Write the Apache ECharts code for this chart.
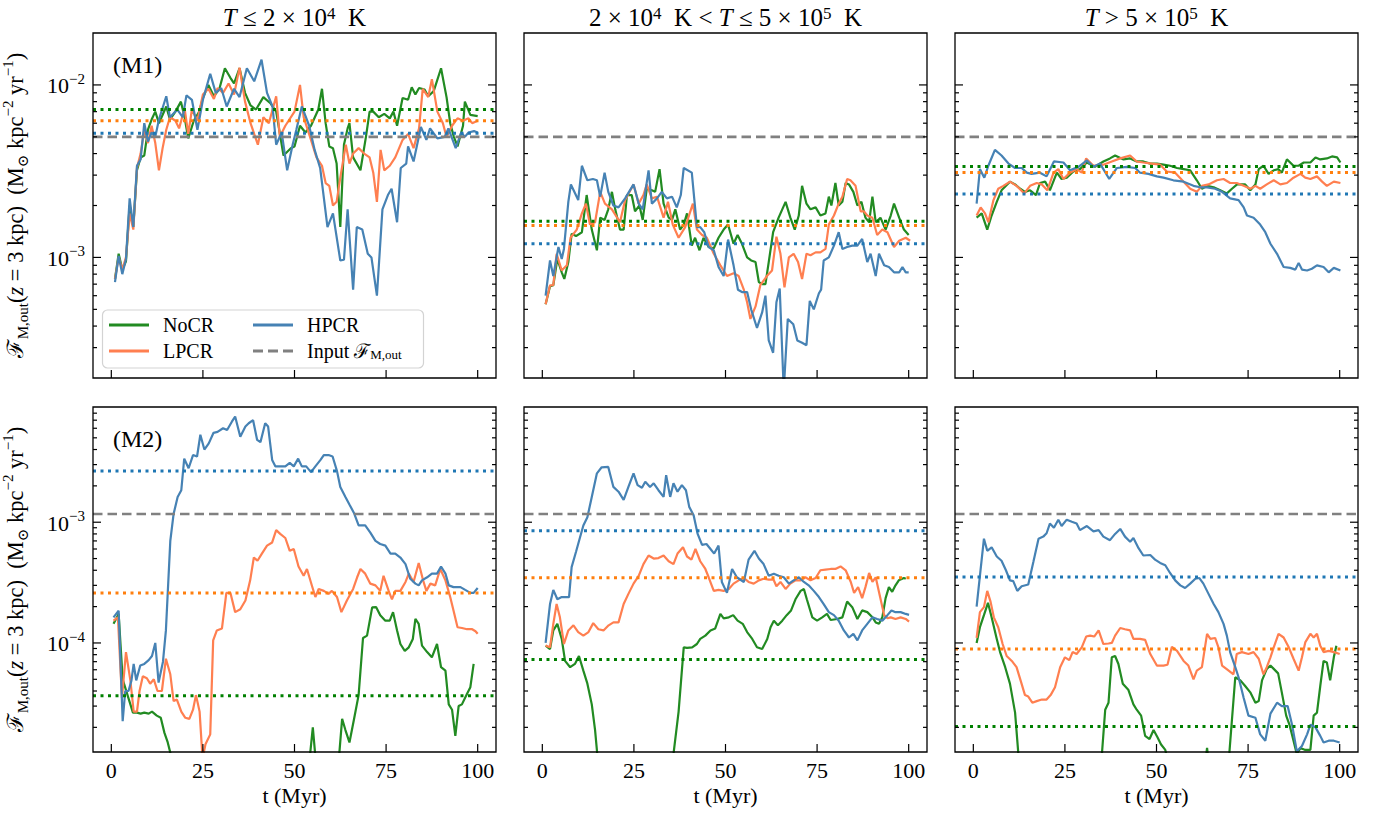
<!DOCTYPE html>
<html>
<head>
<meta charset="utf-8">
<title>Mass outflow flux at z = 3 kpc</title>
<script src="https://cdn.jsdelivr.net/npm/echarts@6/dist/echarts.min.js"></script>
<style>
html, body { margin: 0; padding: 0; background: #ffffff; }
#chart { width: 1392px; height: 818px; }
</style>
</head>
<body>
<div id="chart"></div>
<script>
// ================= DATA =================
const tLimits = [-5, 105];
const tTickValues = [0, 25, 50, 75, 100];
const fluxLimitsM1 = [2e-4, 2e-2];
const fluxLimitsM2 = [1.25e-5, 9e-3];
const columnTitles = [
  '{i|T} ≤ 2 × 10{p|4}  K',
  '2 × 10{p|4}  K < {i|T} ≤ 5 × 10{p|5}  K',
  '{i|T} > 5 × 10{p|5}  K'
];
const modelLabels = ['(M1)', '(M2)'];
const runNames = ['NoCR', 'LPCR', 'HPCR'];
const inputName = 'Input';
const xAxisTitle = 't (Myr)';
const yAxisTitle = 'ℱ{s|M,out}({i|z} = 3 kpc)  (M{s|⊙} kpc{p|−2} yr{p|−1})';

// ---- M1, T <= 2e4 K : [t (Myr), flux] ----
const m1ColdNoCR = [[1,0.75e-3],[2,1.05e-3],[3,0.85e-3],[4,0.95e-3],[5,2.0e-3],[6,1.5e-3],[7,3.2e-3],[8,3.8e-3],[9,3.9e-3],[10,5.5e-3],[11,6.3e-3],[12,7.0e-3],[13,6.0e-3],[15,7.5e-3],[16,6.3e-3],[17.5,7.0e-3],[19,8.0e-3],[20,6.5e-3],[21,4.9e-3],[22.5,6.2e-3],[24,7.0e-3],[25,8.4e-3],[26.5,10.0e-3],[28,8.6e-3],[29.5,9.5e-3],[31,12.5e-3],[32.5,11.0e-3],[33.5,10.2e-3],[35,12.5e-3],[36.5,9.0e-3],[38,7.6e-3],[39.5,7.2e-3],[41.5,8.5e-3],[43.5,7.8e-3],[45,7.0e-3],[47,3.9e-3],[49,4.3e-3],[50,4.4e-3],[51.5,5.8e-3],[53,5.3e-3],[54.5,5.8e-3],[56.5,7.2e-3],[57.5,9.5e-3],[58.5,6.0e-3],[59.5,4.4e-3],[60.5,4.3e-3],[61.5,3.5e-3],[62.5,1.5e-3],[63.5,4.5e-3],[64.5,5.6e-3],[65,6.0e-3],[66,3.8e-3],[68,3.2e-3],[69.5,5.0e-3],[70.5,7.0e-3],[71.5,7.0e-3],[73,6.5e-3],[74.5,6.8e-3],[76,6.4e-3],[77,7.0e-3],[78,5.8e-3],[79.5,8.4e-3],[81,8.2e-3],[82,9.7e-3],[83,8.8e-3],[84,9.6e-3],[85.5,9.4e-3],[86.5,8.6e-3],[88,9.2e-3],[90,12.5e-3],[91.5,8.5e-3],[92.5,6.0e-3],[93.5,5.0e-3],[94.5,4.4e-3],[96,5.8e-3],[96.5,8.0e-3],[98,6.7e-3],[100,6.6e-3]];
const m1ColdLPCR = [[1,0.75e-3],[2,1.0e-3],[3,0.85e-3],[4,1.0e-3],[5,1.8e-3],[6,1.45e-3],[7,3.3e-3],[8,4.0e-3],[9,5.5e-3],[10,4.6e-3],[11,5.8e-3],[12,4.6e-3],[13,3.2e-3],[14,4.3e-3],[15,5.5e-3],[16,6.5e-3],[17.5,6.2e-3],[18.5,5.6e-3],[20,7.3e-3],[21,5.2e-3],[22,7.2e-3],[23.5,6.2e-3],[25,8.8e-3],[26.5,9.5e-3],[28,8.3e-3],[29,9.6e-3],[30.5,9.0e-3],[32,10.2e-3],[33.5,8.8e-3],[35,12.6e-3],[36.5,8.0e-3],[38,6.0e-3],[40,4.5e-3],[41.5,6.5e-3],[43,6.0e-3],[45,8.6e-3],[46,5.0e-3],[47.5,5.8e-3],[50,7.0e-3],[51.5,10.0e-3],[52.5,6.5e-3],[54.5,4.8e-3],[56,3.8e-3],[57.5,3.4e-3],[58.5,2.7e-3],[59.5,2.6e-3],[60.5,2.0e-3],[61.5,2.1e-3],[62.5,2.9e-3],[64,4.5e-3],[65,3.5e-3],[66,4.0e-3],[67.5,4.3e-3],[69,4.0e-3],[70.5,3.8e-3],[71.5,3.1e-3],[72.5,2.1e-3],[73.5,4.2e-3],[74.5,3.2e-3],[76,3.4e-3],[77.5,3.8e-3],[79.5,4.8e-3],[81,5.2e-3],[82.5,4.3e-3],[84,5.6e-3],[85,9.5e-3],[86.5,8.5e-3],[87.5,10.8e-3],[89,7.0e-3],[90.5,6.0e-3],[91.5,5.0e-3],[93,5.8e-3],[94.5,6.4e-3],[96,6.2e-3],[97.5,6.4e-3],[98.5,6.0e-3],[100,6.2e-3]];
const m1ColdHPCR = [[1,0.72e-3],[2,1.02e-3],[3,0.8e-3],[4,0.98e-3],[5,2.2e-3],[6,1.5e-3],[7,3.4e-3],[8,3.7e-3],[9,6.0e-3],[10,4.7e-3],[11,5.3e-3],[12,5.0e-3],[13,6.3e-3],[15,8.6e-3],[16,6.5e-3],[18,7.2e-3],[19.5,6.5e-3],[20.5,8.7e-3],[22,8.2e-3],[23.5,5.5e-3],[25,8.2e-3],[27,11.6e-3],[28.5,9.0e-3],[30,9.6e-3],[31.5,7.5e-3],[33.5,9.5e-3],[35,8.5e-3],[37,12.5e-3],[39,10.5e-3],[41,14.0e-3],[42.5,9.0e-3],[44,7.5e-3],[45,4.5e-3],[46.5,5.3e-3],[48,3.2e-3],[49.5,4.5e-3],[50.5,5.5e-3],[52,7.5e-3],[54,5.8e-3],[55.5,4.2e-3],[57,3.3e-3],[59,1.5e-3],[60.5,1.8e-3],[62.5,0.96e-3],[63.5,0.97e-3],[64.5,1.9e-3],[66,0.65e-3],[67,1.5e-3],[68.5,1.45e-3],[70,1.05e-3],[71,1.0e-3],[72.5,0.6e-3],[74,1.9e-3],[75.5,2.3e-3],[76.5,2.5e-3],[78,1.6e-3],[79,3.3e-3],[80.5,3.5e-3],[81,4.4e-3],[82.5,3.6e-3],[84.5,5.7e-3],[86,4.8e-3],[87,5.6e-3],[89,4.9e-3],[91,5.0e-3],[92,5.6e-3],[94,4.3e-3],[95.5,5.3e-3],[96.5,5.0e-3],[97.5,5.3e-3],[99,5.4e-3],[100,5.3e-3]];

// ---- M1, 2e4 K < T <= 5e5 K ----
const m1WarmNoCR = [[0.9,0.535e-3],[2.1,0.68e-3],[3,0.69e-3],[4.1,0.98e-3],[5.3,0.82e-3],[6,0.75e-3],[7.1,0.94e-3],[8,1.37e-3],[9.2,1.33e-3],[10.8,1.4e-3],[12.1,2.3e-3],[13.5,1.45e-3],[14.9,1.1e-3],[15.8,1.7e-3],[17,1.65e-3],[18,1.9e-3],[19,2.4e-3],[19.9,1.9e-3],[21.2,1.45e-3],[22.2,1.45e-3],[23.1,2.3e-3],[24.4,2.3e-3],[25.3,1.85e-3],[26.5,2.0e-3],[27.4,1.65e-3],[28.5,2.5e-3],[29.9,2.45e-3],[30.8,2.4e-3],[32,3.25e-3],[33.1,2.05e-3],[34.5,1.7e-3],[35.4,1.65e-3],[36.3,1.9e-3],[37.6,1.45e-3],[38.6,1.55e-3],[39.5,1.8e-3],[40.8,1.17e-3],[41.7,1.3e-3],[42.9,1.1e-3],[44,1.3e-3],[45.4,1.15e-3],[46.8,1.13e-3],[48.1,1.3e-3],[49.5,1.45e-3],[50.7,1.55e-3],[52.2,1.2e-3],[53.3,1.35e-3],[54.5,1.2e-3],[55.9,1.0e-3],[57,0.96e-3],[58.2,0.94e-3],[59.1,0.72e-3],[60,0.7e-3],[60.9,0.7e-3],[61.8,0.94e-3],[63,1.4e-3],[64.5,1.7e-3],[66.4,2.1e-3],[67.7,1.7e-3],[68.9,1.45e-3],[70,1.75e-3],[70.9,2.6e-3],[72.1,2.05e-3],[73.2,1.9e-3],[74.6,1.95e-3],[75.9,1.75e-3],[77.3,1.8e-3],[78.2,2.25e-3],[78.9,2.0e-3],[80,2.7e-3],[80.9,2.0e-3],[81.9,2.1e-3],[82.8,2.7e-3],[83.7,2.65e-3],[84.9,2.4e-3],[86,2.0e-3],[87.1,2.1e-3],[88.2,1.7e-3],[89.2,1.6e-3],[90.1,2.25e-3],[91,1.6e-3],[92.3,1.7e-3],[93.7,1.45e-3],[95.1,1.75e-3],[96,2.05e-3],[97.4,1.7e-3],[98.7,1.45e-3],[100,1.35e-3]];
const m1WarmLPCR = [[0.9,0.535e-3],[2.1,0.69e-3],[3,0.69e-3],[3.9,1.05e-3],[5.3,0.84e-3],[6.7,0.9e-3],[7.7,1.3e-3],[9.4,1.45e-3],[10.8,1.8e-3],[11.9,2.05e-3],[13,1.55e-3],[14.4,1.6e-3],[15.8,2.4e-3],[17.1,2.05e-3],[19,1.9e-3],[21.2,1.6e-3],[22.6,2.15e-3],[24.9,2.65e-3],[26.3,2.05e-3],[27.6,2.3e-3],[28.5,2.65e-3],[29.9,2.2e-3],[31.3,2.25e-3],[33.1,1.7e-3],[34.3,2.1e-3],[35.6,1.55e-3],[37.2,1.3e-3],[39,1.5e-3],[41.1,2.05e-3],[42.2,1.45e-3],[43.6,1.35e-3],[44.9,1.3e-3],[46.8,1.05e-3],[48.6,0.9e-3],[50.4,0.78e-3],[52.2,0.81e-3],[53.6,0.78e-3],[55,0.65e-3],[55.9,0.55e-3],[56.8,0.44e-3],[58.2,0.52e-3],[59.5,0.69e-3],[61.3,0.78e-3],[62.7,0.84e-3],[63.9,1.32e-3],[65,1.05e-3],[66.1,0.67e-3],[67.3,1.0e-3],[68.6,1.05e-3],[69.8,0.94e-3],[70.9,0.75e-3],[72.1,1.05e-3],[73.2,1.03e-3],[74.6,1.07e-3],[75.9,1.07e-3],[77.3,1.12e-3],[78.2,1.55e-3],[79.6,1.75e-3],[80.9,2.05e-3],[81.9,2.25e-3],[83.2,2.85e-3],[84.1,2.8e-3],[85.5,2.6e-3],[86.9,1.85e-3],[87.8,1.85e-3],[88.7,1.75e-3],[90.1,1.7e-3],[91.4,1.35e-3],[92.8,1.45e-3],[94.2,1.4e-3],[96,1.15e-3],[97.4,1.25e-3],[99.2,1.3e-3],[100.4,1.25e-3]];
const m1WarmHPCR = [[0.9,0.6e-3],[2.1,0.96e-3],[3,0.78e-3],[4.4,1.15e-3],[5.3,0.98e-3],[5.9,1.12e-3],[7.1,2.1e-3],[7.8,2.65e-3],[9.8,2.15e-3],[10.8,3.4e-3],[12.3,2.8e-3],[13.8,2.85e-3],[14.9,2.8e-3],[15.8,2.25e-3],[17,3.1e-3],[18,2.4e-3],[19.4,2.0e-3],[20.8,1.95e-3],[22.6,2.2e-3],[24.9,2.65e-3],[26.3,2.05e-3],[27.4,1.9e-3],[29,3.2e-3],[29.9,2.05e-3],[31.3,2.2e-3],[32.6,2.4e-3],[34,2.2e-3],[35.4,2.25e-3],[36.7,1.95e-3],[37.8,2.3e-3],[38.6,3.3e-3],[40.8,3.1e-3],[42.2,1.5e-3],[43.1,1.5e-3],[44.2,1.4e-3],[45.4,1.15e-3],[46.8,1.1e-3],[48.1,0.88e-3],[49.5,0.78e-3],[50.7,1.27e-3],[52.2,0.9e-3],[53.4,0.65e-3],[54.5,0.63e-3],[55.9,0.63e-3],[57,0.5e-3],[58.6,0.39e-3],[60,0.48e-3],[60.9,0.6e-3],[61.8,0.33e-3],[63,0.28e-3],[63.9,0.55e-3],[64.8,0.66e-3],[65.9,0.17e-3],[67,0.44e-3],[68.5,0.41e-3],[69.6,0.33e-3],[70.9,0.32e-3],[72.1,0.31e-3],[73,0.56e-3],[74.1,0.5e-3],[75.5,0.62e-3],[76.1,0.65e-3],[76.8,0.96e-3],[78.2,1.0e-3],[79.6,1.17e-3],[80.9,1.4e-3],[81.9,1.12e-3],[83.2,1.15e-3],[84.6,1.17e-3],[86,1.17e-3],[87.3,1.28e-3],[88.7,0.94e-3],[89.6,1.05e-3],[91,0.78e-3],[91.9,1.05e-3],[93.3,0.9e-3],[94.6,0.88e-3],[96,0.82e-3],[97.4,0.82e-3],[98.3,0.88e-3],[99.2,0.82e-3],[100,0.82e-3]];

// ---- M1, T > 5e5 K ----
const m1HotNoCR = [[0.9,1.7e-3],[2.3,1.8e-3],[3.8,1.45e-3],[5,1.75e-3],[6.4,2.1e-3],[7.7,2.45e-3],[10,2.75e-3],[11.4,2.65e-3],[12.8,2.5e-3],[14.1,2.4e-3],[15.5,2.45e-3],[17.1,2.3e-3],[18.2,2.7e-3],[19.6,2.75e-3],[20.9,2.45e-3],[22.8,3.1e-3],[24.1,2.85e-3],[25.5,2.9e-3],[27.3,3.15e-3],[29.1,3.25e-3],[31,3.55e-3],[33.2,3.35e-3],[35.5,3.6e-3],[37.3,3.75e-3],[38.7,3.9e-3],[41,3.7e-3],[42.8,3.75e-3],[44.6,3.6e-3],[46.4,3.6e-3],[48.3,3.5e-3],[50.1,3.5e-3],[51.9,3.45e-3],[53.7,3.4e-3],[55.6,3.3e-3],[57.4,3.25e-3],[59.2,3.2e-3],[61,2.8e-3],[62.4,2.5e-3],[63.8,2.6e-3],[65.6,2.55e-3],[67.4,2.45e-3],[69.2,2.35e-3],[70.6,2.5e-3],[72,2.65e-3],[74.2,2.65e-3],[75.6,2.45e-3],[77,2.65e-3],[77.9,3.25e-3],[79.2,3.4e-3],[80.6,3.05e-3],[82,3.2e-3],[83.3,3.25e-3],[84.2,3.1e-3],[85.6,3.7e-3],[87.4,3.4e-3],[88.8,3.4e-3],[90.2,3.55e-3],[92,3.55e-3],[93.4,3.8e-3],[94.7,3.7e-3],[96.5,3.75e-3],[97.9,3.85e-3],[99.3,3.8e-3],[100.2,3.55e-3]];
const m1HotLPCR = [[0.9,1.75e-3],[2,1.95e-3],[3.2,1.8e-3],[4.1,1.6e-3],[5.5,2.15e-3],[6.8,2.5e-3],[8.2,2.6e-3],[10,2.75e-3],[11.8,2.6e-3],[13.9,2.35e-3],[15.5,2.6e-3],[17.3,2.7e-3],[18.7,2.65e-3],[20.2,2.45e-3],[21.9,3.1e-3],[23.2,3.25e-3],[24.6,2.85e-3],[26.4,3.1e-3],[28.2,3.25e-3],[29.6,3.1e-3],[30.8,3.75e-3],[32.8,3.4e-3],[35.5,3.45e-3],[37.8,3.6e-3],[40.1,3.75e-3],[42.8,3.9e-3],[44.6,3.6e-3],[46.4,3.55e-3],[48.7,3.5e-3],[51,3.45e-3],[52.8,3.15e-3],[55.1,3.1e-3],[57.4,2.75e-3],[59.2,2.5e-3],[61,2.4e-3],[62.4,2.6e-3],[64.2,2.65e-3],[66.5,2.8e-3],[68.3,2.85e-3],[70.1,2.7e-3],[71.9,2.7e-3],[73.8,2.6e-3],[75.6,2.5e-3],[77,2.6e-3],[78.3,2.5e-3],[80.1,2.65e-3],[82,2.8e-3],[83.8,2.65e-3],[85.6,2.7e-3],[87.4,2.9e-3],[89.3,3.05e-3],[90.6,2.9e-3],[92,2.85e-3],[93.8,2.95e-3],[95.2,2.75e-3],[96.5,2.6e-3],[98.4,2.75e-3],[100.2,2.7e-3]];
const m1HotHPCR = [[0.9,2.05e-3],[1.8,3.25e-3],[3,2.9e-3],[4.1,3.4e-3],[5.9,4.2e-3],[7.7,3.9e-3],[9.6,3.5e-3],[11.4,3.3e-3],[13.2,3.3e-3],[14.6,3.1e-3],[15.9,3.05e-3],[18.2,3.1e-3],[20,2.95e-3],[22,3.6e-3],[24.6,3.55e-3],[26.4,3.2e-3],[28.7,3.35e-3],[31,3.65e-3],[32.8,3.35e-3],[34.6,3.5e-3],[37.1,2.85e-3],[39.2,3.3e-3],[41.9,3.35e-3],[44.2,3.3e-3],[45.5,3.1e-3],[47.8,3.05e-3],[50.1,2.95e-3],[51.9,2.9e-3],[54.6,2.8e-3],[57.4,2.75e-3],[60.1,2.6e-3],[61.9,2.55e-3],[63.8,2.55e-3],[66,2.5e-3],[67.9,2.4e-3],[70.1,2.2e-3],[72.4,2.15e-3],[73.8,1.95e-3],[74.7,1.75e-3],[76.5,1.7e-3],[78.3,1.55e-3],[79.7,1.4e-3],[81.1,1.2e-3],[82.9,1.05e-3],[84.7,0.88e-3],[86.5,0.87e-3],[87.9,0.85e-3],[88.8,0.93e-3],[89.7,0.85e-3],[91.1,0.84e-3],[92.4,0.86e-3],[93.8,0.9e-3],[95.6,0.88e-3],[97,0.82e-3],[98.4,0.87e-3],[100.2,0.84e-3]];

// ---- M2, T <= 2e4 K ----
const m2ColdNoCR = [[0.6,1.44e-4],[2,1.74e-4],[3.1,0.5e-4],[5.9,0.265e-4],[7,0.265e-4],[8,0.26e-4],[9,0.265e-4],[10.2,0.26e-4],[11.1,0.27e-4],[12.4,0.25e-4],[13.5,0.24e-4],[14.5,0.18e-4],[15.4,0.15e-4],[16.2,0.12e-4],[18,0.08e-4],[24,0.06e-4],[30,0.05e-4],[40,0.06e-4],[50,0.08e-4],[54,0.1e-4],[55,0.2e-4],[56,0.09e-4],[60,0.08e-4],[62,0.1e-4],[63,0.235e-4],[63.9,0.19e-4],[65,0.15e-4],[66.2,0.23e-4],[67.5,0.37e-4],[68.7,1.1e-4],[69.8,1.15e-4],[71.2,1.97e-4],[72.3,1.98e-4],[73.4,1.7e-4],[74.8,1.53e-4],[76,1.53e-4],[76.9,1.8e-4],[78,1.27e-4],[78.9,0.98e-4],[80.1,0.86e-4],[81.2,0.92e-4],[82.3,1.08e-4],[83,1.58e-4],[83.9,1.44e-4],[84.8,0.95e-4],[86.2,0.84e-4],[87.5,0.76e-4],[88.9,0.98e-4],[90,0.63e-4],[91.2,0.59e-4],[92.1,0.31e-4],[93,0.28e-4],[93.9,0.17e-4],[94.8,0.3e-4],[95.7,0.31e-4],[97.1,0.38e-4],[98,0.43e-4],[98.9,0.67e-4]];
const m2ColdLPCR = [[0.6,1.53e-4],[1.8,1.63e-4],[2.9,0.35e-4],[4,0.84e-4],[5.2,0.49e-4],[6.1,0.27e-4],[7,0.27e-4],[7.7,0.4e-4],[8.6,0.53e-4],[9.7,0.51e-4],[10.6,0.46e-4],[11.6,0.5e-4],[12.6,0.4e-4],[13.8,0.4e-4],[14.9,0.74e-4],[16.1,0.55e-4],[17,0.33e-4],[17.9,0.34e-4],[19.1,0.27e-4],[20.2,0.24e-4],[21.3,0.235e-4],[22.3,0.28e-4],[23.1,0.37e-4],[24.1,0.27e-4],[24.9,0.11e-4],[25.7,0.145e-4],[27,0.175e-4],[27.8,1.05e-4],[28.8,1.27e-4],[30.2,1.32e-4],[31.4,2.6e-4],[32.5,2.6e-4],[33.8,1.8e-4],[35.2,1.9e-4],[36.6,2.25e-4],[37.9,3.3e-4],[38.9,5.1e-4],[39.9,4.8e-4],[41.1,5.5e-4],[42.5,6.4e-4],[43.9,6.8e-4],[45,8.6e-4],[46.1,8.0e-4],[47.5,7.4e-4],[48.7,5.8e-4],[49.8,6.0e-4],[51.1,4.3e-4],[52.5,3.6e-4],[53.4,4.1e-4],[54.8,2.95e-4],[55.7,2.4e-4],[56.6,2.8e-4],[58,2.7e-4],[59.3,2.55e-4],[60.2,2.7e-4],[61.6,2.4e-4],[62.8,1.8e-4],[64.3,2.25e-4],[66,2.8e-4],[67.1,3.5e-4],[68,4.1e-4],[69.3,3.75e-4],[70.7,3.1e-4],[72.1,3.0e-4],[73.4,2.7e-4],[74.3,3.6e-4],[75.7,2.7e-4],[76.6,2.3e-4],[77.5,2.7e-4],[78.9,2.7e-4],[80.3,3.2e-4],[81.2,3.75e-4],[82.5,3.2e-4],[83.9,4.6e-4],[85.1,3.3e-4],[86,2.7e-4],[87.1,3.1e-4],[88.4,3.0e-4],[89.8,4.1e-4],[91.2,3.3e-4],[92.5,2.4e-4],[93.4,1.86e-4],[94.5,1.35e-4],[95.7,1.33e-4],[97.1,1.3e-4],[98.5,1.3e-4],[99.4,1.25e-4],[100,1.19e-4]];
const m2ColdHPCR = [[0.6,1.63e-4],[2,1.85e-4],[3.1,0.225e-4],[3.8,0.4e-4],[4.7,0.4e-4],[5.5,0.49e-4],[6.1,0.67e-4],[6.8,0.49e-4],[7.9,0.65e-4],[9,0.67e-4],[10.2,0.72e-4],[11.1,0.78e-4],[12,1.0e-4],[12.9,0.47e-4],[14.1,0.7e-4],[14.9,1.27e-4],[16.1,7.0e-4],[17,11.7e-4],[18.1,16.2e-4],[19.1,18.4e-4],[19.9,33.6e-4],[21.1,28e-4],[22.3,36e-4],[23.4,35e-4],[24.3,53e-4],[25.4,40e-4],[26.6,45e-4],[27.9,55e-4],[29,56e-4],[30.5,60e-4],[31.6,58e-4],[32.9,68e-4],[33.8,75e-4],[35.2,51e-4],[36.6,62e-4],[37.5,66e-4],[38.7,70e-4],[39.8,48e-4],[40.7,46e-4],[42,66e-4],[42.8,62e-4],[43.9,32.8e-4],[44.8,29e-4],[46.1,29e-4],[47.5,29e-4],[48.7,31e-4],[49.8,29e-4],[51,33.6e-4],[52,29e-4],[53.2,29e-4],[54.5,26e-4],[55.7,29e-4],[57.1,32.8e-4],[58,36e-4],[59.3,36e-4],[60.4,35e-4],[61.6,26.5e-4],[62.5,19.6e-4],[63.9,16.2e-4],[65.1,13.8e-4],[66.2,12e-4],[67.5,9.4e-4],[69.3,9.4e-4],[70.7,8.2e-4],[72.1,7.0e-4],[73.4,6.6e-4],[74.8,6.4e-4],[76.2,5.5e-4],[77.5,5.5e-4],[78.9,5.1e-4],[80.3,4.5e-4],[81.6,3.4e-4],[83,3.1e-4],[83.9,3.0e-4],[84.8,3.3e-4],[86.2,3.5e-4],[87.5,3.75e-4],[88.9,3.75e-4],[90,4.3e-4],[91.2,3.75e-4],[92.1,3.0e-4],[93.4,2.9e-4],[95.3,2.9e-4],[96.6,2.75e-4],[98,2.6e-4],[98.9,2.6e-4],[100,2.85e-4]];

// ---- M2, 2e4 K < T <= 5e5 K ----
const m2WarmNoCR = [[0.9,0.95e-4],[2.1,0.89e-4],[3,1.27e-4],[4.1,1.44e-4],[5.3,1.08e-4],[6.2,0.71e-4],[7.6,0.63e-4],[8.9,0.67e-4],[10,0.78e-4],[11.2,0.59e-4],[12.3,0.46e-4],[13.5,0.31e-4],[14.4,0.19e-4],[15,0.12e-4],[16,0.08e-4],[18,0.06e-4],[24,0.05e-4],[30,0.05e-4],[34,0.07e-4],[35.8,0.12e-4],[37.2,0.27e-4],[38.6,0.92e-4],[39.5,0.91e-4],[40.9,0.92e-4],[42.2,0.98e-4],[43.1,1.08e-4],[44.5,1.15e-4],[45.9,1.27e-4],[47.2,1.32e-4],[48.6,1.74e-4],[49.5,1.6e-4],[50.9,1.63e-4],[52.1,1.7e-4],[53.3,1.53e-4],[54.7,1.44e-4],[55.9,1.23e-4],[57.3,1.08e-4],[58.6,0.92e-4],[60,0.89e-4],[61.4,1.08e-4],[62.3,1.35e-4],[63.2,1.53e-4],[64.3,1.4e-4],[65.5,1.53e-4],[66.7,1.7e-4],[67.9,1.86e-4],[69.1,2.3e-4],[70.5,2.7e-4],[71.4,2.8e-4],[72.2,2.3e-4],[73.7,1.63e-4],[75,1.53e-4],[76.4,1.63e-4],[77.7,1.74e-4],[78.7,1.55e-4],[80.5,1.58e-4],[81.9,1.63e-4],[83.2,2.2e-4],[84.6,1.98e-4],[86,1.58e-4],[87.3,1.86e-4],[88.7,1.8e-4],[90.1,1.63e-4],[91,1.48e-4],[91.9,1.44e-4],[92.8,1.63e-4],[93.7,2.35e-4],[94.6,2.9e-4],[95.5,2.65e-4],[96.4,3.0e-4],[97.3,3.3e-4],[98.7,3.45e-4],[99.2,3.4e-4]];
const m2WarmLPCR = [[0.9,0.95e-4],[2.1,0.92e-4],[3,1.44e-4],[3.9,2.1e-4],[4.8,1.63e-4],[5.9,0.98e-4],[7.1,1.27e-4],[8.5,1.4e-4],[9.8,1.23e-4],[11.2,1.15e-4],[12.6,1.23e-4],[13.9,1.46e-4],[15.3,1.3e-4],[16.7,1.27e-4],[18.1,1.4e-4],[19.4,1.48e-4],[20.8,1.48e-4],[22.2,2.1e-4],[23.5,2.55e-4],[24.9,3.1e-4],[26.3,3.6e-4],[27.6,4.5e-4],[29,5.3e-4],[30.4,5.0e-4],[31.7,5.05e-4],[33.1,5.3e-4],[34.5,4.75e-4],[35.8,4.5e-4],[36.9,5.5e-4],[38.4,6.2e-4],[39.5,5.2e-4],[40.7,4.9e-4],[41.8,6.0e-4],[43.1,4.75e-4],[44.5,4.1e-4],[45.4,3.5e-4],[46.8,2.7e-4],[48.1,2.75e-4],[49.5,2.7e-4],[50.9,2.8e-4],[52.2,3.1e-4],[53.6,3.3e-4],[55,3.45e-4],[56.3,3.2e-4],[57.7,3.1e-4],[59.1,3.3e-4],[60.4,3.4e-4],[61.8,3.35e-4],[63.1,3.35e-4],[63.9,2.95e-4],[65,3.2e-4],[66.4,2.8e-4],[67.7,3.1e-4],[69.1,3.3e-4],[70.5,3.3e-4],[71.8,3.5e-4],[73.2,3.3e-4],[74.6,3.45e-4],[75.9,4.0e-4],[77.3,4.05e-4],[78.7,4.1e-4],[80,4.1e-4],[81.4,4.3e-4],[82.8,4.0e-4],[84.2,3.2e-4],[85.1,2.6e-4],[86.2,2.9e-4],[87.3,2.35e-4],[88.2,2.9e-4],[89.2,3.8e-4],[90.1,3.2e-4],[91,3.5e-4],[92.2,2.4e-4],[93.3,1.7e-4],[94.2,1.6e-4],[95.1,1.63e-4],[96.4,1.58e-4],[97.8,1.63e-4],[99.2,1.58e-4],[100.1,1.5e-4]];
const m2WarmHPCR = [[0.9,1.0e-4],[2.1,2.1e-4],[3,2.75e-4],[4.1,2.3e-4],[5.3,2.4e-4],[6.7,2.4e-4],[7.3,2.4e-4],[8,4.25e-4],[9.2,5.7e-4],[10.3,7.5e-4],[11.2,9.4e-4],[12.3,11e-4],[13.5,16.2e-4],[14.9,25.4e-4],[16.2,28.5e-4],[18,28.7e-4],[19.4,19.6e-4],[20.8,17.9e-4],[22.2,15.3e-4],[23.5,19.6e-4],[24.9,25.4e-4],[26,20.3e-4],[27.2,19.3e-4],[28.1,21.6e-4],[29.4,19.6e-4],[30.4,21e-4],[31.7,18.4e-4],[33.1,16.2e-4],[33.8,24.5e-4],[34.9,16.2e-4],[35.8,21e-4],[36.9,17.9e-4],[38.1,20.3e-4],[39.2,18.4e-4],[40.1,13.4e-4],[41.3,11.4e-4],[42.4,8.0e-4],[43.6,6.5e-4],[44.8,6.6e-4],[45.9,6.0e-4],[46.9,5.5e-4],[48.1,6.4e-4],[49,3.2e-4],[50.4,2.6e-4],[51.8,4.1e-4],[53.1,3.5e-4],[55,3.2e-4],[56.3,4.9e-4],[57.9,5.8e-4],[59.1,5.0e-4],[60.4,4.5e-4],[61.8,3.6e-4],[63.2,3.75e-4],[64.5,3.6e-4],[65.9,3.5e-4],[67.3,3.1e-4],[68.6,3.3e-4],[70,3.5e-4],[71.4,3.2e-4],[72.7,3.0e-4],[74.1,2.7e-4],[75.5,2.4e-4],[76.8,2.1e-4],[78.2,1.8e-4],[79.6,1.7e-4],[80.9,1.53e-4],[82.3,1.27e-4],[83.7,1.11e-4],[84.9,1.19e-4],[86,1.05e-4],[87.3,1.27e-4],[88.7,1.44e-4],[90.1,1.63e-4],[91.4,1.58e-4],[92.8,1.53e-4],[94.2,1.7e-4],[95.3,1.86e-4],[96.4,1.8e-4],[97.8,1.8e-4],[99.2,1.74e-4],[100.1,1.71e-4]];

// ---- M2, T > 5e5 K ----
const m2HotNoCR = [[0.9,1.0e-4],[1.8,1.35e-4],[2.9,1.7e-4],[4,2.15e-4],[5,1.63e-4],[6.4,1.08e-4],[7.3,0.84e-4],[8.7,0.63e-4],[10,0.46e-4],[11.4,0.265e-4],[12.3,0.12e-4],[13.5,0.07e-4],[20,0.05e-4],[30,0.05e-4],[34.5,0.09e-4],[35.1,0.12e-4],[36,0.28e-4],[36.9,0.32e-4],[37.8,0.76e-4],[38.7,0.78e-4],[39.6,0.67e-4],[40.8,0.46e-4],[42.3,0.41e-4],[43.7,0.31e-4],[44.6,0.28e-4],[45.8,0.25e-4],[46.9,0.17e-4],[48.1,0.16e-4],[49.2,0.19e-4],[50.3,0.165e-4],[51.2,0.145e-4],[52.4,0.13e-4],[53.3,0.1e-4],[58,0.07e-4],[63.3,0.1e-4],[63.8,0.135e-4],[64.3,0.1e-4],[67,0.07e-4],[69.5,0.1e-4],[69.9,0.124e-4],[71.5,0.52e-4],[72.9,0.49e-4],[74.2,0.44e-4],[75.6,0.39e-4],[77,0.32e-4],[77.9,0.33e-4],[78.8,0.49e-4],[80.1,0.61e-4],[81.1,0.65e-4],[82,0.61e-4],[83.2,0.56e-4],[84.2,0.39e-4],[85.4,0.25e-4],[86.3,0.21e-4],[87.4,0.155e-4],[88.3,0.12e-4],[89.3,0.135e-4],[90.6,0.13e-4],[92,0.13e-4],[92.9,0.25e-4],[93.8,0.265e-4],[94.7,0.44e-4],[95.6,0.71e-4],[96.5,0.69e-4],[97.4,0.49e-4],[98.4,0.76e-4],[99.1,0.95e-4]];
const m2HotLPCR = [[0.9,1.1e-4],[1.8,1.8e-4],[2.9,1.98e-4],[3.8,2.7e-4],[4.7,2.2e-4],[5.6,1.63e-4],[6.8,1.35e-4],[8,0.98e-4],[9.1,0.78e-4],[10.5,0.71e-4],[11.8,0.63e-4],[12.9,0.49e-4],[14.1,0.37e-4],[15,0.36e-4],[16.1,0.32e-4],[17.3,0.33e-4],[18.7,0.34e-4],[20,0.34e-4],[21.1,0.37e-4],[22.3,0.43e-4],[23.7,0.63e-4],[25,0.76e-4],[26.2,0.72e-4],[27.1,0.84e-4],[28.2,0.81e-4],[29.6,0.92e-4],[30.8,1.13e-4],[31.9,1.15e-4],[33,1.13e-4],[34.2,1.27e-4],[35.5,0.98e-4],[36.9,0.99e-4],[37.8,1.0e-4],[38.7,1.15e-4],[40.1,1.33e-4],[41.4,1.3e-4],[42.8,1.27e-4],[43.7,1.08e-4],[45.5,1.08e-4],[46.9,1.06e-4],[48.3,0.81e-4],[50.1,0.65e-4],[51.9,0.65e-4],[53,0.66e-4],[54.2,0.93e-4],[55.6,0.86e-4],[57.4,0.71e-4],[58.7,0.65e-4],[60.1,0.5e-4],[61,0.59e-4],[62.4,0.63e-4],[63.8,1.19e-4],[64.7,1.08e-4],[66,1.1e-4],[66.9,0.92e-4],[67.9,0.65e-4],[69.7,0.59e-4],[71,0.55e-4],[71.9,0.81e-4],[73.3,0.84e-4],[75.1,0.81e-4],[76.5,0.84e-4],[77.9,0.74e-4],[79.2,0.55e-4],[80.1,0.63e-4],[81.1,0.76e-4],[82,0.92e-4],[83.3,1.19e-4],[84.7,1.11e-4],[86.1,0.92e-4],[87.4,0.74e-4],[88.8,0.59e-4],[89.7,0.76e-4],[90.6,1.01e-4],[92,1.19e-4],[92.9,1.11e-4],[93.8,1.19e-4],[94.7,0.95e-4],[95.6,0.84e-4],[97,0.86e-4],[98.5,0.84e-4],[100,0.81e-4]];
const m2HotHPCR = [[0.9,2.0e-4],[1.8,3.6e-4],[2.9,7.3e-4],[3.8,5.8e-4],[5,6.2e-4],[6.4,5.2e-4],[7.7,4.8e-4],[8.9,4.0e-4],[10,3.3e-4],[10.9,3.25e-4],[12,2.7e-4],[13.2,2.95e-4],[15,3.05e-4],[16.4,4.7e-4],[17.8,7.3e-4],[19.1,7.6e-4],[20,8.1e-4],[20.9,9.75e-4],[22,9.0e-4],[23.2,10.5e-4],[24.1,9.3e-4],[25.5,10.5e-4],[26.9,10.1e-4],[28.2,9.75e-4],[29.1,8.6e-4],[31,9.3e-4],[32.8,8.4e-4],[34.2,8.6e-4],[35.5,7.6e-4],[37.3,7.1e-4],[38.7,8.0e-4],[40.1,8.8e-4],[41.4,7.6e-4],[42.8,6.9e-4],[43.7,7.4e-4],[45.1,6.1e-4],[46.4,5.3e-4],[48.3,5.35e-4],[49.6,4.9e-4],[51,4.6e-4],[52.4,4.4e-4],[53.7,3.8e-4],[55.1,3.3e-4],[56.5,3.0e-4],[57.8,2.85e-4],[59.2,3.1e-4],[60.6,3.4e-4],[61.7,3.45e-4],[62.8,3.1e-4],[64.2,2.55e-4],[65.6,2.1e-4],[66.9,1.8e-4],[68.3,1.44e-4],[69.2,1.15e-4],[70.1,0.84e-4],[71.5,0.63e-4],[72.4,0.52e-4],[73.8,0.35e-4],[75.1,0.25e-4],[77,0.24e-4],[78.3,0.175e-4],[79.7,0.155e-4],[81.1,0.26e-4],[82.9,0.32e-4],[84.2,0.3e-4],[85.8,0.3e-4],[87,0.21e-4],[88.3,0.127e-4],[89.7,0.14e-4],[91.1,0.175e-4],[92,0.21e-4],[93.4,0.2e-4],[94.7,0.17e-4],[95.6,0.15e-4],[97,0.155e-4],[98.4,0.155e-4],[100,0.15e-4]];

// time-averaged fluxes [NoCR, LPCR, HPCR] and input flux
const meansM1Cold = [7.2e-3, 6.2e-3, 5.25e-3];
const meansM1Warm = [1.62e-3, 1.53e-3, 1.2e-3];
const meansM1Hot  = [3.37e-3, 3.11e-3, 2.33e-3];
const meansM2Cold = [3.66e-5, 2.59e-4, 2.65e-3];
const meansM2Warm = [7.3e-5, 3.47e-4, 8.5e-4];
const meansM2Hot  = [2.03e-5, 8.9e-5, 3.52e-4];
const inputFluxM1 = 5.0e-3;
const inputFluxM2 = 1.17e-3;

// ================= LAYOUT / STYLE =================
const FONT = "'Liberation Serif', 'DejaVu Serif', 'Times New Roman', serif";
const runColors = ['#228b22', '#ff7f50', '#4682b4'];
const meanColors = ['#008000', '#ff7f0e', '#1f77b4'];
const inputColor = '#808080';
const gridLeft = [93, 524, 955];
const gridTop = [33, 407];
const gridW = 403, gridH = 345;

const panels = [
  {row: 0, col: 0, runs: [m1ColdNoCR, m1ColdLPCR, m1ColdHPCR], means: meansM1Cold, input: inputFluxM1},
  {row: 0, col: 1, runs: [m1WarmNoCR, m1WarmLPCR, m1WarmHPCR], means: meansM1Warm, input: inputFluxM1},
  {row: 0, col: 2, runs: [m1HotNoCR, m1HotLPCR, m1HotHPCR], means: meansM1Hot, input: inputFluxM1},
  {row: 1, col: 0, runs: [m2ColdNoCR, m2ColdLPCR, m2ColdHPCR], means: meansM2Cold, input: inputFluxM2},
  {row: 1, col: 1, runs: [m2WarmNoCR, m2WarmLPCR, m2WarmHPCR], means: meansM2Warm, input: inputFluxM2},
  {row: 1, col: 2, runs: [m2HotNoCR, m2HotLPCR, m2HotHPCR], means: meansM2Hot, input: inputFluxM2}
];
const rowLimits = [fluxLimitsM1, fluxLimitsM2];

function richSet(size, useFill) {
  const c = useFill ? 'fill' : 'color';
  const small = Math.round(size * 0.68);
  const r = {
    p: {fontFamily: FONT, fontSize: small, lineHeight: small, verticalAlign: 'top'},
    s: {fontFamily: FONT, fontSize: small, lineHeight: small, verticalAlign: 'bottom'},
    i: {fontFamily: FONT, fontSize: size, fontStyle: 'italic'}
  };
  Object.keys(r).forEach(k => { r[k][c] = '#000'; });
  return r;
}

const chart = echarts.init(document.getElementById('chart'), null, {renderer: 'svg'});

// horizontal reference line spanning the full time axis (value taken from the data arrays)
function hLine(name, i, value, color, width, dash) {
  return {
    name: name, type: 'line', xAxisIndex: i, yAxisIndex: i,
    data: [[tLimits[0], value], [tLimits[1], value]],
    symbol: 'none', showSymbol: false, clip: true, silent: true, animation: false,
    lineStyle: {color: color, width: width, type: dash, cap: 'butt'}, itemStyle: {color: color},
    emphasis: {disabled: true}
  };
}

const series = [];
panels.forEach((p, i) => {
  p.runs.forEach((data, k) => {
    series.push({
      name: runNames[k], type: 'line', xAxisIndex: i, yAxisIndex: i, data: data,
      symbol: 'none', showSymbol: false, clip: true, silent: true, animation: false,
      lineStyle: {color: runColors[k], width: 2.2}, itemStyle: {color: runColors[k]},
      emphasis: {disabled: true}
    });
  });
});
panels.forEach((p, i) => {
  series.push(hLine(inputName, i, p.input, inputColor, 2.6, [9.5, 5]));
  p.means.forEach((m, j) => series.push(hLine(runNames[j] + ' mean', i, m, meanColors[j], 3, [3, 4.5])));
});

const solidIcon = 'path://M0,0H40V3H0Z';
const dashIcon = 'path://M0,0H10V3H0Z M15,0H25V3H15Z M30,0H40V3H30Z';
const legendText = {
  fontFamily: FONT, fontSize: 20, color: '#000', lineHeight: 20, padding: [0, 0, 0, 9],
  rich: {s: {fontFamily: FONT, fontSize: 13, lineHeight: 13, verticalAlign: 'bottom', color: '#000'}}
};
const legendBase = {
  orient: 'vertical', padding: 0, itemWidth: 40, itemHeight: 14, itemGap: 6,
  selectedMode: false, textStyle: legendText, itemStyle: {borderWidth: 0}, z: 10,
  formatter: name => name === inputName ? 'Input ℱ{s|M,out}' : name
};

const option = {
  animation: false,
  backgroundColor: '#ffffff',
  grid: panels.map(p => ({left: gridLeft[p.col], top: gridTop[p.row], width: gridW, height: gridH,
                          containLabel: false, outerBoundsMode: 'none', show: false})),
  xAxis: panels.map((p, i) => ({
    gridIndex: i, type: 'value', min: tLimits[0], max: tLimits[1],
    axisLine: {show: false}, axisTick: {show: false}, axisLabel: {show: false}, splitLine: {show: false},
    name: p.row === 1 ? xAxisTitle : '', nameLocation: 'middle', nameGap: 32,
    nameTextStyle: {fontFamily: FONT, fontSize: 22, color: '#000'}
  })),
  yAxis: panels.map((p, i) => ({
    gridIndex: i, type: 'log', logBase: 10, min: rowLimits[p.row][0], max: rowLimits[p.row][1],
    axisLine: {show: false}, axisTick: {show: false}, axisLabel: {show: false},
    splitLine: {show: false}, minorTick: {show: false}, minorSplitLine: {show: false},
    name: p.col === 0 ? yAxisTitle : '', nameLocation: 'middle', nameRotate: 90, nameGap: 63,
    nameTextStyle: {fontFamily: FONT, fontSize: 22.5, color: '#000', lineHeight: 30, rich: richSet(22.5, false)}
  })),
  legend: [
    Object.assign({}, legendBase, {left: 109, top: 315,
      data: [{name: 'NoCR', icon: solidIcon}, {name: 'LPCR', icon: solidIcon}]}),
    Object.assign({}, legendBase, {left: 253, top: 315,
      data: [{name: 'HPCR', icon: solidIcon}, {name: inputName, icon: dashIcon}]})
  ],
  series: series
};
chart.setOption(option);

// ---------- frames, ticks, tick labels, titles (positions from the axes) ----------
function buildDecor() {
  const els = [];
  const tick = (x1, y1, x2, y2) => ({type: 'line', silent: true, z: 120,
    shape: {x1: x1, y1: y1, x2: x2, y2: y2}, style: {stroke: '#000', lineWidth: 1.2}});
  const text = (x, y, str, size, align, lh) => ({type: 'text', silent: true, z: 120,
    style: {x: x, y: y, text: str, fontFamily: FONT, fontSize: size, fill: '#000', lineHeight: lh || Math.round(size * 1.3),
            align: align, textAlign: align, verticalAlign: 'middle', textVerticalAlign: 'middle', rich: richSet(size, true)}});
  panels.forEach((p, i) => {
    const lim = rowLimits[p.row];
    const px = (x, y) => chart.convertToPixel({gridIndex: i}, [x, y]);
    const tl = px(tLimits[0], lim[1]);
    const br = px(tLimits[1], lim[0]);
    const xL = tl[0], yT = tl[1], xR = br[0], yB = br[1];
    els.push({type: 'rect', silent: true, z: 121, shape: {x: xL, y: yT, width: xR - xL, height: yB - yT},
              style: {fill: 'none', stroke: '#000', lineWidth: 1.3}});
    for (let e = -6; e <= -1; e++) {
      for (let k = 1; k <= 9; k++) {
        const v = k * Math.pow(10, e);
        if (v <= lim[0] * 1.001 || v >= lim[1] * 0.999) continue;
        const y = px(0, v)[1];
        const len = k === 1 ? 8 : 4;
        els.push(tick(xL, y, xL + len, y));
        els.push(tick(xR, y, xR - len, y));
        if (k === 1 && p.col === 0) {
          els.push(text(xL - 8, y + 1, '10{p|−' + (-e) + '}', 22, 'right'));
        }
      }
    }
    tTickValues.forEach(t => {
      const x = px(t, lim[0])[0];
      els.push(tick(x, yB, x, yB - 8));
      if (p.row === 1) els.push(text(x, yB + 18, String(t), 22, 'center'));
    });
    if (p.row === 0) els.push(text((xL + xR) / 2, yT - 16, columnTitles[p.col], 25, 'center', 24));
    if (p.col === 0) els.push(text(xL + 20, yT + 32, modelLabels[p.row], 24, 'left'));
    if (p.row === 0 && p.col === 0) {
      els.push({type: 'rect', silent: true, z: 5,
        shape: {x: xL + 9.5, y: yB - 68, width: 321, height: 58, r: 5},
        style: {fill: 'rgba(255,255,255,0.8)', stroke: '#d3d3d3', lineWidth: 1.2}});
    }
  });
  chart.setOption({graphic: {elements: els}});
}
buildDecor();
</script>
</body>
</html>
